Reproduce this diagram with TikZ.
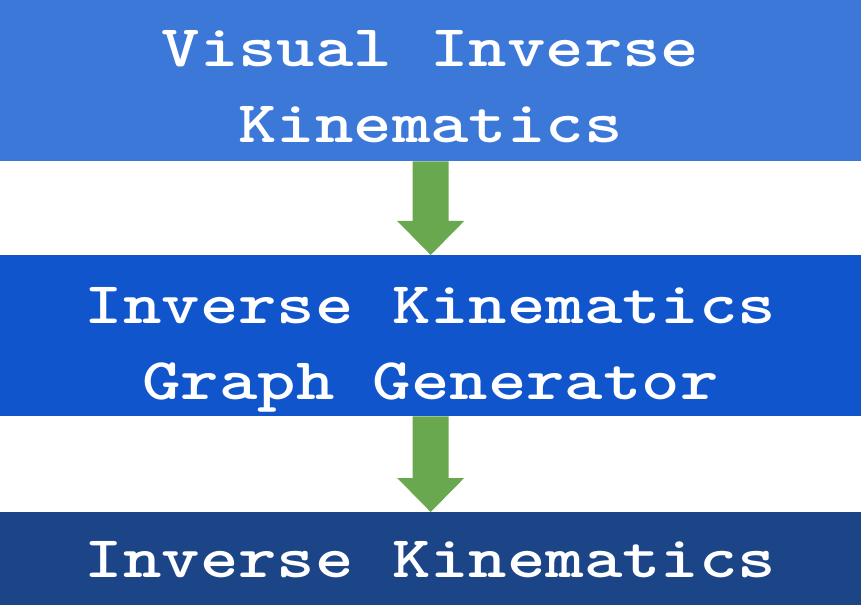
\documentclass[tikz,border=0pt]{standalone}
\usepackage{graphicx}
\usetikzlibrary{calc}
\definecolor{boxA}{HTML}{3C78D8}
\definecolor{boxB}{HTML}{1155CC}
\definecolor{boxC}{HTML}{1C4587}
\definecolor{arrowgreen}{HTML}{6AA84F}
\newcommand{\couri}[1]{\scalebox{1.24}[1]{\ttfamily\bfseries\fontsize{59}{70}\selectfont #1}}
\tikzset{
  band/.style={fill=#1, draw=none, inner sep=0pt, minimum width=861pt, anchor=north west},
  label/.style={text=white, inner sep=0pt, anchor=base},
  greenarrow/.style={fill=arrowgreen, draw=none}
}
\begin{document}
\begin{tikzpicture}[x=1pt,y=-1pt]
\useasboundingbox[fill=white] (0,0) rectangle (863,607);
\node[band=boxA, minimum height=161pt] (box1) at (0,0) {};
\node[band=boxB, minimum height=161pt] (box2) at (0,255) {};
\node[band=boxC, minimum height=93pt] (box3) at (0,512) {};
\node[label] (t1a) at (430.5,67) {\couri{Visual Inverse}};
\node[label] (t1b) at (430.5,143) {\couri{Kinematics}};
\node[label] (t2a) at (430.5,323) {\couri{Inverse Kinematics}};
\node[label] (t2b) at (430.5,399) {\couri{Graph Generator}};
\node[label] (t3) at (430.5,577) {\couri{Inverse Kinematics}};
\foreach \a/\b in {box1/box2, box2/box3}{
  \fill[greenarrow] let \p1=(\a.south), \p2=(\b.north) in
    (\x1-18pt,\y1) -- (\x1+18pt,\y1) -- (\x1+18pt,\y2+34pt) -- (\x1+33.5pt,\y2+34pt)
    -- (\x1,\y2) -- (\x1-33.5pt,\y2+34pt) -- (\x1-18pt,\y2+34pt) -- cycle;
}
\end{tikzpicture}
\end{document}
